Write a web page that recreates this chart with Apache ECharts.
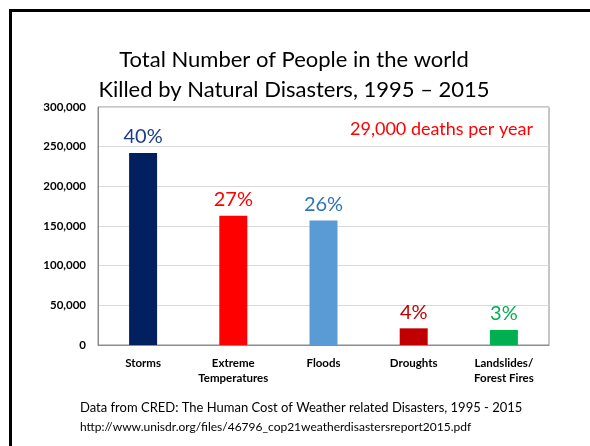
<!DOCTYPE html>
<html><head><meta charset="utf-8">
<script src="https://cdn.jsdelivr.net/npm/echarts@6/dist/echarts.min.js"></script>
<style>html,body{margin:0;padding:0;background:#fff;}#c{width:590px;height:446px;}</style>
</head><body><div id="c"></div>
<script>
const categories = ['Storms', 'Extreme\nTemperatures', 'Floods', 'Droughts', 'Landslides/\nForest Fires'];
const deaths = [242000, 163000, 157000, 21000, 19000];
const shares = ['40%', '27%', '26%', '4%', '3%'];
const barColors = ['#002060', '#FF0000', '#5B9BD5', '#C00000', '#00B050'];
const labelColors = ['#1F3C88', '#FF0000', '#2E75B6', '#C00000', '#00B050'];
const yTicks = [0, 50000, 100000, 150000, 200000, 250000, 300000];

const font = 'Lato, "Open Sans", sans-serif';
const chart = echarts.init(document.getElementById('c'), null, {renderer: 'canvas'});
chart.setOption({
  animation: false,
  backgroundColor: '#fff',
  title: {
    text: 'Total Number of People in the world\nKilled by Natural Disasters, 1995 \u2013 2015',
    left: 289, top: 40, textAlign: 'center',
    textStyle: {fontFamily: font, fontSize: 22, fontWeight: 'normal', color: '#000', lineHeight: 30}
  },
  grid: {left: 98, right: 41, top: 107, bottom: 101, show: true, borderColor: '#8C8C8C', borderWidth: 1},
  xAxis: {
    type: 'category', data: categories,
    axisLine: {lineStyle: {color: '#8C8C8C'}},
    axisTick: {show: false},
    axisLabel: {fontFamily: font, fontSize: 11.5, fontWeight: 'bold', color: '#000', lineHeight: 15, margin: 11, interval: 0}
  },
  yAxis: {
    type: 'value', min: yTicks[0], max: yTicks[yTicks.length - 1], interval: 50000,
    axisLine: {show: true, lineStyle: {color: '#8C8C8C'}},
    axisTick: {show: false},
    splitLine: {lineStyle: {color: '#D9D9D9'}},
    axisLabel: {fontFamily: font, fontSize: 11.5, fontWeight: 'bold', color: '#000', margin: 12,
      formatter: v => v.toLocaleString('en-US')}
  },
  series: [{
    type: 'bar', barWidth: 28,
    data: deaths.map((v, i) => ({
      value: v,
      itemStyle: {color: barColors[i]},
      label: {show: true, position: 'top', distance: 6, formatter: shares[i],
        fontFamily: font, fontSize: 20, color: labelColors[i]}
    }))
  }],
  graphic: [
    {type: 'rect', shape: {x: 10.5, y: 10.5, width: 700, height: 700}, style: {fill: 'none', stroke: '#000', lineWidth: 3}, silent: true},
    {type: 'text', right: 57, top: 120, style: {text: '29,000 deaths per year', fill: '#FF0000', font: '18px ' + font}},
    {type: 'text', left: 80, top: 401, style: {text: 'Data from CRED: The Human Cost of Weather related Disasters, 1995 - 2015', fill: '#000', font: '13px ' + font}},
    {type: 'text', left: 80, top: 421, style: {text: 'http://www.unisdr.org/files/46796_cop21weatherdisastersreport2015.pdf', fill: '#000', font: '12px ' + font}}
  ]
});
</script></body></html>
